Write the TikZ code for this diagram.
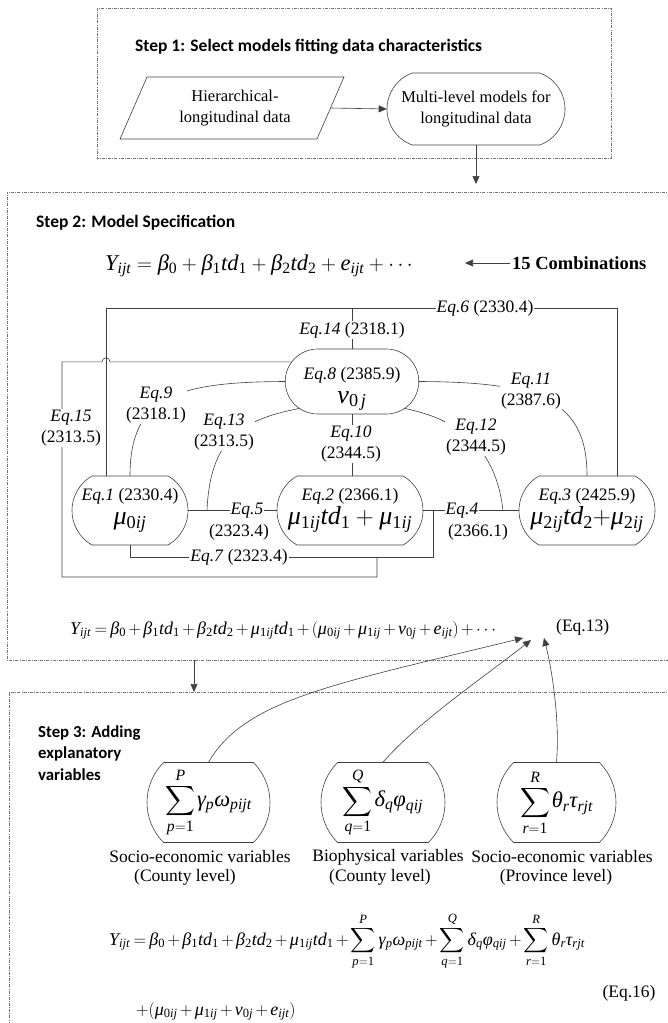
\documentclass[tikz,border=0pt]{standalone}
\usepackage{exscale}
\usepackage[no-math]{fontspec}
\setmainfont{Liberation Serif}
\newfontfamily\tms{Liberation Serif}[NFSSFamily=tmsx]
\newfontfamily\stepsf{Carlito}
\DeclareSymbolFont{tlet}{TU}{tmsx}{m}{it}
\DeclareSymbolFont{tup}{TU}{tmsx}{m}{n}
\count255=`a
\loop \Umathcode\count255=7 \symtlet \count255 \advance\count255 by 1 \ifnum\count255<123 \repeat
\count255=`A
\loop \Umathcode\count255=7 \symtlet \count255 \advance\count255 by 1 \ifnum\count255<91 \repeat
\count255=`0
\loop \Umathcode\count255=0 \symtup \count255 \advance\count255 by 1 \ifnum\count255<58 \repeat
\Umathchardef\beta=0 \symtlet "3B2
\Umathchardef\gamma=0 \symtlet "3B3
\Umathchardef\delta=0 \symtlet "3B4
\Umathchardef\theta=0 \symtlet "3B8
\Umathchardef\mu=0 \symtlet "3BC
\Umathchardef\nu=0 \symtlet "3BD
\Umathchardef\tau=0 \symtlet "3C4
\Umathchardef\varphi=0 \symtlet "3C6
\Umathchardef\omega=0 \symtlet "3C9
\usetikzlibrary{shapes.misc,arrows.meta,calc}
\newcommand\eqlbl[2]{\textit{Eq.#1} (#2)}
\newcommand\tightmath{\medmuskip=2.5mu plus 1mu\thickmuskip=3.5mu plus 1mu}
\newcommand\tsum[2]{\sum_{#1}^{#2}\mkern-1.5mu}
\begin{document}
\begin{tikzpicture}[x=1pt,y=-1pt,
  conn/.style={draw=black!75, line width=0.6pt},
  stepbox/.style={draw=black!55, line width=0.6pt, dash pattern=on 3pt off 1.2pt on 0.8pt off 1.2pt},
  arr/.style={conn,-{Triangle[length=8pt,width=7pt]}},
  lbl/.style={font=\fontsize{17.5}{21}\selectfont, align=center, inner sep=1pt},
  wlbl/.style={lbl, fill=white},
  steptitle/.style={font=\stepsf\bfseries\fontsize{17.5}{21.5}\selectfont, align=left, inner sep=0pt, anchor=west},
  txt/.style={font=\fontsize{16.5}{21}\selectfont, align=center, inner sep=0pt},
  eqbox/.style={draw=black!75, line width=0.6pt, rounded rectangle, rounded rectangle arc length=120, minimum height=69pt, inner sep=0pt, align=center, font=\fontsize{17.5}{24}\selectfont},
  varbox/.style={draw=black!75, line width=0.6pt, rounded rectangle, rounded rectangle arc length=90, minimum height=80pt, inner sep=0pt, font=\fontsize{22.5}{26}\selectfont}
]
\useasboundingbox (0,0) rectangle (668,1023);
\clip (0,0) rectangle (668,1023);

% ---------- dashed step frames
\draw[stepbox] (97,8) rectangle (611,158);
\draw[stepbox] (690,192) -- (7,192) -- (7,660) -- (690,660);
\draw[stepbox] (690,692) -- (9,692) -- (9,1040);

% ---------- Step 1
\node[steptitle] (t1) at (135,47) {Step 1: Select models fitting data characteristics};
\node[txt] (hd) at (235,108) {Hierarchical-\\longitudinal data};
\draw[conn] (120,139) -- (147,77) -- (344,77) -- (317,139) -- cycle;
\coordinate (hdR) at (330.5,108);
\node[draw=black!75, line width=0.6pt, rounded rectangle, rounded rectangle arc length=140,
      minimum width=178pt, minimum height=72pt, txt] (ml) at (476,109) {Multi-level models for\\longitudinal data};
\draw[arr] (hdR) -- (ml.west);
\coordinate (s2in) at (476,184);
\draw[arr] (ml.south) -- (s2in);

% ---------- Step 2
\node[steptitle] (t2) at (36,223) {Step 2: Model Specification};
\node[anchor=base west, inner sep=0pt, font=\fontsize{22.5}{24}\selectfont] (eq0) at (105,270)
  {$Y_{ijt} = \beta_0 + \beta_1 td_1 + \beta_2 td_2 + e_{ijt} + \cdots$};
\node[anchor=west, inner sep=2pt, font=\bfseries\fontsize{18.5}{22}\selectfont] (comb) at (510,263) {15 Combinations};
\coordinate (t15) at (465,263);
\draw[arr] (comb.west) -- (t15);

% nodes of the graph
\node[eqbox, rounded rectangle arc length=180, minimum width=130pt, minimum height=65pt] (v) at (352,381.5)
  {\rule{0pt}{27pt}\eqlbl{8}{2385.9}\\{\fontsize{26}{24}\selectfont$\nu_{0\,j}$}};
\node[eqbox, minimum width=116pt] (e1) at (130,510.5)
  {\eqlbl{1}{2330.4}\\{\fontsize{26}{24}\selectfont$\mu_{0ij}$}};
\node[eqbox, minimum width=146pt] (e2) at (350,510.5)
  {\eqlbl{2}{2366.1}\\{\fontsize{26}{24}\selectfont$\mu_{1ij}td_1 + \mu_{1ij}$}};
\node[eqbox, minimum width=136pt] (e3) at (587,510.5)
  {\eqlbl{3}{2425.9}\\{\fontsize{26}{24}\selectfont$\mu_{2ij}td_2{+}\mu_{2ij}$}};

% helper coordinates
\coordinate (c6l) at (106,308);
\coordinate (c6r) at (617,308);
\coordinate (c15) at (62,577);
\coordinate (c15e) at (377,557);
\coordinate (jmp) at (110,362);
\coordinate (c7) at (433,557);
\coordinate (j13) at (207,510.5);
\coordinate (j12) at (503,510.5);

% connectors
\draw[conn] (e1.north -| c6l) -- (c6l) -- (c6r) -- (e3.north -| c6r);
\draw[conn] (v.north) -- (v.north |- c6l);
\draw[conn] (v.south) -- (v.south |- e2.north);
\draw[conn] (e1.east) -- (e2.west);
\draw[conn] (e2.east) -- (e3.west);
\draw[conn] (e1.south) |- (c7) -- (c7 |- e2.east);
\draw[conn] (v.162) -- (v.162 -| jmp) arc[start angle=0, end angle=180, radius=4pt] -- (v.162 -| c15) -- (c15) -| (c15e);
\draw[conn] (v.west) .. controls (177,382) and (130,396) .. (e1.north);
\draw[conn] (v.207) .. controls (240,420) and (210,440) .. (j13);
\draw[conn] (v.east) .. controls (540,382) and (587,400) .. (e3.north);
\draw[conn] (v.333) .. controls (450,418) and (495,440) .. (j12);

% labels
\node[wlbl] (l6) at (485,308) {\eqlbl{6}{2330.4}};
\node[wlbl] (l14) at (352,330) {\eqlbl{14}{2318.1}};
\node[wlbl] (l15) at (71,428) {\textit{Eq.15}\\(2313.5)};
\node[wlbl] (l9) at (156,405) {\textit{Eq.9}\\(2318.1)};
\node[wlbl] (l13) at (224,432) {\textit{Eq.13}\\(2313.5)};
\node[wlbl] (l10) at (351,444) {\textit{Eq.10}\\(2344.5)};
\node[wlbl] (l12) at (476,437) {\textit{Eq.12}\\(2344.5)};
\node[wlbl] (l11) at (531,391) {\textit{Eq.11}\\(2387.6)};
\node[wlbl] (l5a) at (247,510.5) {\textit{Eq.5}};
\node[lbl] (l5b) at (239,532) {(2323.4)};
\node[wlbl] (l4a) at (462,510.5) {\textit{Eq.4}};
\node[lbl] (l4b) at (478,532) {(2366.1)};
\node[wlbl] (l7) at (239,557) {\eqlbl{7}{2323.4}};

\node[anchor=base west, inner sep=0pt, font=\fontsize{18}{22}\selectfont] (eq13) at (70,634)
  {\tightmath$Y_{ijt} = \beta_0 + \beta_1 td_1 + \beta_2 td_2 + \mu_{1ij} td_1 + (\mu_{0ij} + \mu_{1ij} + \nu_{0j} + e_{ijt}) + \cdots$};
\node[anchor=base west, inner sep=0pt, font=\fontsize{17.5}{21}\selectfont] (eq13n) at (556,631) {(Eq.13)};

\coordinate (s2out) at (194,660);
\coordinate (s3in) at (194,692);
\draw[arr] (s2out) -- (s3in);

% ---------- Step 3
\node[steptitle, font=\stepsf\bfseries\fontsize{16.8}{21.5}\selectfont] (t3) at (38,753) {Step 3: Adding\\explanatory\\variables};
\node[varbox, minimum width=123pt] (b1) at (208.5,802.5) {$\displaystyle\tsum{p=1}{P}\gamma_p\omega_{pijt}$};
\node[varbox, minimum width=124pt] (b2) at (383,802.5) {$\displaystyle\tsum{q=1}{Q}\delta_q\varphi_{qij}$};
\node[varbox, minimum width=119pt] (b3) at (556.5,802.5) {$\displaystyle\tsum{r=1}{R}\theta_r\tau_{rjt}$};

\node[lbl] (v1a) at (200,857) {Socio-economic variables};
\node[lbl] (v1b) at (185,877) {(County level)};
\node[lbl] (v2a) at (388,857) {Biophysical variables};
\node[lbl] (v2b) at (380,877) {(County level)};
\node[lbl] (v3a) at (562,857) {Socio-economic variables};
\node[lbl] (v3b) at (556,877) {(Province level)};

\coordinate (a1) at (523,638);
\coordinate (a2) at (531,640);
\coordinate (a3) at (544,638);
\draw[arr] (b1.north) .. controls (245,700) and (330,685) .. (a1);
\draw[arr] (b2.north) .. controls (418,722) and (480,680) .. (a2);
\draw[arr] (b3.north) .. controls (560,720) and (552,670) .. (a3);

\node[anchor=base west, inner sep=0pt, font=\fontsize{18}{22}\selectfont] (eq16a) at (109,945)
  {\tightmath$\displaystyle Y_{ijt} = \beta_0 + \beta_1 td_1 + \beta_2 td_2 + \mu_{1ij}td_1 + \sum_{p=1}^{P}\gamma_p\omega_{pijt} + \sum_{q=1}^{Q}\delta_q\varphi_{qij} + \sum_{r=1}^{R}\theta_r\tau_{rjt}$};
\node[anchor=base west, inner sep=0pt, font=\fontsize{18}{22}\selectfont] (eq16b) at (136,1015)
  {\tightmath$+(\mu_{0ij} + \mu_{1ij} + \nu_{0j} + e_{ijt})$};
\node[lbl] (eq16n) at (629,993) {(Eq.16)};
\end{tikzpicture}
\end{document}
